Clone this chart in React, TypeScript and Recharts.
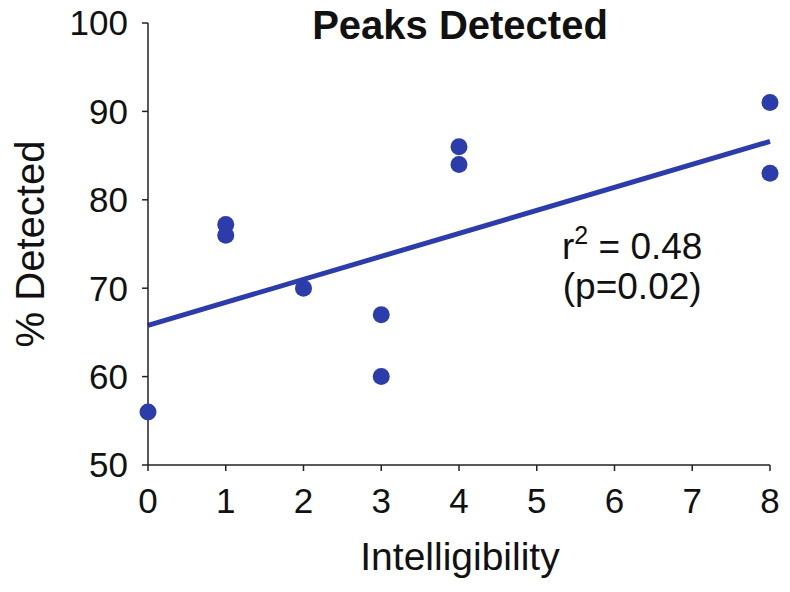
import {
  ScatterChart,
  Scatter,
  XAxis,
  YAxis,
  ReferenceLine,
} from "recharts";

const BLUE = "#2c3dab";
const AXIS = "#222";
const FONT = "'Liberation Sans', Arial, Helvetica, sans-serif";

// intelligibility score per recording and % of peaks detected
const intelligibility = [0, 1, 1, 2, 3, 3, 4, 4, 8, 8];
const detected = [56, 77.2, 76, 70, 67, 60, 86, 84, 91, 83];

// least-squares fit, endpoints at x = 0 and x = 8
const fitX = [0, 8];
const fitY = [65.8, 86.6];

const xTicks = [0, 1, 2, 3, 4, 5, 6, 7, 8];
const yTicks = [50, 60, 70, 80, 90, 100];

const points = intelligibility.map((x, i) => ({ x, y: detected[i] }));
const fitSegment = fitX.map((x, i) => ({ x, y: fitY[i] }));

const Dot = (props: any) => <circle cx={props.cx} cy={props.cy} r={8.5} fill={BLUE} />;

const tickStyle = { fontSize: 35, fill: "#111", fontFamily: FONT };

const W = 790;
const H = 592;

const App = () => {
  return (
    <div
      style={{
        position: "relative",
        width: W,
        height: H,
        margin: -8,
        fontFamily: FONT,
        color: "#111",
      }}
    >
      <style>{`
        html, body { overflow: hidden; }
        .recharts-surface, .recharts-wrapper { overflow: visible !important; }
      `}</style>
      <ScatterChart width={W} height={H} margin={{ top: 23, right: 20, bottom: 37, left: 78 }}>
        <XAxis
          type="number"
          dataKey="x"
          domain={[0, 8]}
          ticks={xTicks}
          interval={0}
          height={90}
          stroke={AXIS}
          strokeWidth={1.5}
          tickSize={6}
          tickMargin={17}
          tick={tickStyle}
        />
        <YAxis
          type="number"
          dataKey="y"
          domain={[50, 100]}
          ticks={yTicks}
          interval={0}
          width={70}
          stroke={AXIS}
          strokeWidth={1.5}
          tickSize={6}
          tickMargin={14}
          tick={tickStyle}
        />
        <ReferenceLine
          segment={fitSegment}
          stroke={BLUE}
          strokeWidth={5}
          ifOverflow="visible"
        />
        <Scatter data={points} fill={BLUE} shape={Dot} isAnimationActive={false} />
      </ScatterChart>

      <div
        style={{
          position: "absolute",
          left: 300,
          width: 320,
          top: 3,
          textAlign: "center",
          fontWeight: "bold",
          fontSize: 40,
        }}
      >
        Peaks Detected
      </div>

      <div
        style={{
          position: "absolute",
          left: 30,
          top: 244,
          transform: "translate(-50%, -50%) rotate(-90deg)",
          whiteSpace: "nowrap",
          fontSize: 40,
        }}
      >
        % Detected
      </div>

      <div
        style={{
          position: "absolute",
          left: 310,
          width: 300,
          top: 535,
          textAlign: "center",
          fontSize: 39,
          lineHeight: "44px",
        }}
      >
        Intelligibility
      </div>

      <div
        style={{
          position: "absolute",
          left: 562,
          top: 215,
          fontSize: 37,
          lineHeight: "40px",
          textAlign: "center",
          whiteSpace: "nowrap",
        }}
      >
        <div>
          r<sup style={{ fontSize: 25, verticalAlign: "0.6em" }}>2</sup> = 0.48
        </div>
        <div>(p=0.02)</div>
      </div>
    </div>
  );
};

export default App;
